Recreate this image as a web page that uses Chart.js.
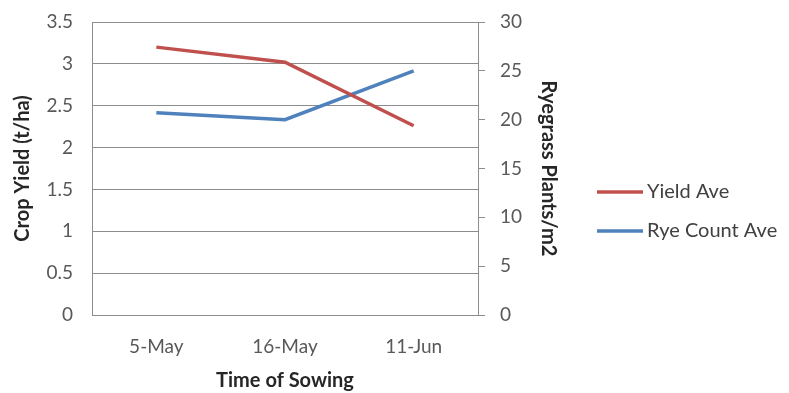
<!DOCTYPE html>
<html>
<head>
<meta charset="utf-8">
<script src="https://cdn.jsdelivr.net/npm/chart.js@4/dist/chart.umd.min.js"></script>
<style>
  html, body { margin: 0; padding: 0; background: #fff; }
  #wrap { width: 789px; height: 393px; position: relative; }
</style>
</head>
<body>
<div id="wrap"><canvas id="chart" width="789" height="393"></canvas></div>
<script>
const sowingDates = ["5-May", "16-May", "11-Jun"];
const yieldAve = [3.2, 3.02, 2.26];
const ryeCountAve = [20.7, 20.0, 25.0];

const FONT = "Lato, 'Open Sans', sans-serif";
const RED = "#C0504D";
const BLUE = "#4F81BD";
const GRID = "#8C8C8C";
const TICK_TEXT = "#595959";

// legend drawn by hand to the right of the plot
const sideLegend = {
  id: "sideLegend",
  afterDraw(chart) {
    const ctx = chart.ctx;
    const rows = [
      { y: 192, ds: chart.data.datasets[0] },
      { y: 231, ds: chart.data.datasets[1] }
    ];
    ctx.save();
    rows.forEach((row) => {
      ctx.strokeStyle = row.ds.borderColor;
      ctx.lineWidth = 3.5;
      ctx.beginPath();
      ctx.moveTo(597, row.y);
      ctx.lineTo(643, row.y);
      ctx.stroke();
      ctx.fillStyle = "#404040";
      ctx.font = "20px " + FONT;
      ctx.textBaseline = "middle";
      ctx.textAlign = "left";
      ctx.fillText(row.ds.label, 647, row.y);
    });
    ctx.restore();
  }
};

// keep tick padding from pushing the plot top down
function noVerticalPad(scale) {
  scale.paddingTop = 0;
  scale.paddingBottom = 0;
}

new Chart(document.getElementById("chart"), {
  type: "line",
  data: {
    labels: sowingDates,
    datasets: [
      {
        label: "Yield Ave",
        data: yieldAve,
        yAxisID: "y",
        borderColor: RED,
        backgroundColor: RED,
        borderWidth: 3.5,
        pointRadius: 0,
        tension: 0
      },
      {
        label: "Rye Count Ave",
        data: ryeCountAve,
        yAxisID: "y1",
        borderColor: BLUE,
        backgroundColor: BLUE,
        borderWidth: 3.5,
        pointRadius: 0,
        tension: 0
      }
    ]
  },
  options: {
    responsive: false,
    animation: false,
    layout: { padding: { top: 22, left: 4, right: 227, bottom: 0 } },
    plugins: {
      legend: { display: false },
      tooltip: { enabled: false }
    },
    scales: {
      x: {
        offset: true,
        grid: { display: false },
        border: { color: GRID, width: 1 },
        ticks: { color: TICK_TEXT, font: { family: FONT, size: 19 }, padding: 12 },
        title: {
          display: true,
          text: "Time of Sowing",
          color: "#262626",
          font: { family: FONT, size: 20, weight: "bold" },
          padding: { top: 6, bottom: 0 }
        },
        afterFit(scale) { scale.height = 78; }
      },
      y: {
        position: "left",
        min: 0,
        max: 3.5,
        ticks: {
          stepSize: 0.5,
          color: TICK_TEXT,
          font: { family: FONT, size: 19 },
          padding: 19,
          callback: (v) => String(v)
        },
        grid: { color: GRID, drawTicks: false },
        border: { color: GRID },
        title: {
          display: true,
          text: "Crop Yield (t/ha)",
          color: "#262626",
          font: { family: FONT, size: 20, weight: "bold" },
          padding: { top: 7, bottom: 0 }
        },
        afterFit(scale) {
          scale.width = 88;
          noVerticalPad(scale);
        }
      },
      y1: {
        position: "right",
        min: 0,
        max: 30,
        ticks: {
          stepSize: 5,
          color: TICK_TEXT,
          font: { family: FONT, size: 19 },
          padding: 15
        },
        grid: { drawOnChartArea: false, color: GRID, tickLength: 7 },
        border: { color: GRID },
        title: {
          display: true,
          text: "Ryegrass Plants/m2",
          color: "#262626",
          font: { family: FONT, size: 20, weight: "bold" },
          padding: { top: 2, bottom: 0 }
        },
        afterFit(scale) {
          scale.width = 84;
          noVerticalPad(scale);
        }
      }
    }
  },
  plugins: [sideLegend]
});
</script>
</body>
</html>
